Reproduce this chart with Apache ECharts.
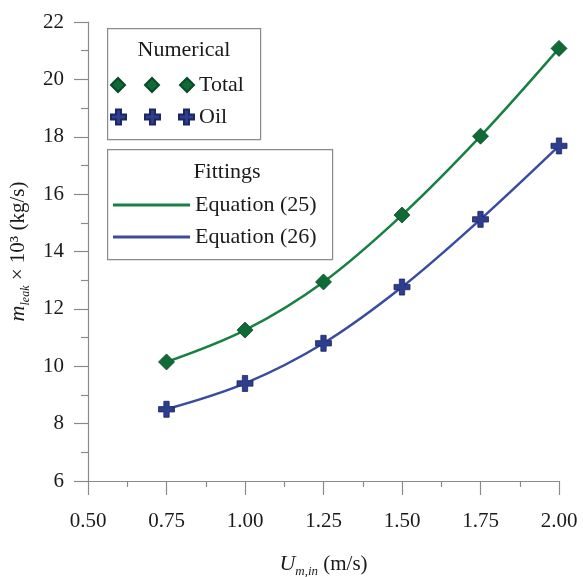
<!DOCTYPE html>
<html>
<head>
<meta charset="utf-8">
<script src="https://cdn.jsdelivr.net/npm/echarts@6/dist/echarts.min.js"></script>
<style>
html,body{margin:0;padding:0;background:#fff;}
#chart{width:583px;height:577px;}
</style>
</head>
<body>
<div id="chart"></div>
<script>
const velocities = [0.75, 1.00, 1.25, 1.50, 1.75, 2.00];
const totalLeak = [10.15, 11.26, 12.94, 15.27, 18.02, 21.08];
const oilLeak = [8.50, 9.40, 10.80, 12.76, 15.12, 17.68];
const xTicks = [0.50, 0.75, 1.00, 1.25, 1.50, 1.75, 2.00];
const yTicks = [6, 8, 10, 12, 14, 16, 18, 20, 22];

const FONT = '"Liberation Serif", "Times New Roman", serif';
const GREEN_FILL = '#0f6a36';
const GREEN_LINE = '#178042';
const GREEN_EDGE = '#0a4a26';
const BLUE_FILL = '#2e3d8e';
const BLUE_LINE = '#3a4c9f';
const BLUE_EDGE = '#1c275e';
const AXIS = '#8a8a8a';
const TEXT = '#1a1a1a';

const crossPath = 'path://M5,0 L10,0 L10,5 L15,5 L15,10 L10,10 L10,15 L5,15 L5,10 L0,10 L0,5 L5,5 Z';
const diamond3 = 'path://M0,7 L7,0 L14,7 L7,14 Z M34,7 L41,0 L48,7 L41,14 Z M69,7 L76,0 L83,7 L76,14 Z';
const cross3 = 'path://M5,0 L10,0 L10,5 L15,5 L15,10 L10,10 L10,15 L5,15 L5,10 L0,10 L0,5 L5,5 Z ' +
  'M39,0 L44,0 L44,5 L49,5 L49,10 L44,10 L44,15 L39,15 L39,10 L34,10 L34,5 L39,5 Z ' +
  'M73,0 L78,0 L78,5 L83,5 L83,10 L78,10 L78,15 L73,15 L73,10 L68,10 L68,5 L73,5 Z';

const pairs = arr => velocities.map((v, i) => [v, arr[i]]);

const chart = echarts.init(document.getElementById('chart'), null, {renderer: 'canvas'});

const legendText = {fontFamily: FONT, fontSize: 22, color: TEXT, lineHeight: 22};

chart.setOption({
  animation: false,
  backgroundColor: '#fff',
  grid: {left: 88, right: 24, top: 22, bottom: 96, containLabel: false, outerBoundsMode: 'none'},
  xAxis: {
    type: 'value',
    min: 0.5, max: 2.0, interval: 0.25,
    name: '{u|U}{sub|m,in}{n| (m/s)}',
    nameLocation: 'middle',
    nameGap: 69,
    nameTextStyle: {
      fontFamily: FONT, fontSize: 21, color: TEXT,
      rich: {
        u: {fontFamily: FONT, fontSize: 22, fontStyle: 'italic', color: TEXT, lineHeight: 28},
        sub: {fontFamily: FONT, fontSize: 13, fontStyle: 'italic', color: TEXT, lineHeight: 14, verticalAlign: 'bottom'},
        n: {fontFamily: FONT, fontSize: 21, color: TEXT, lineHeight: 28}
      }
    },
    axisLine: {show: true, lineStyle: {color: AXIS, width: 1.2}},
    axisTick: {show: true, inside: false, length: 14, lineStyle: {color: AXIS, width: 1.2}},
    minorTick: {show: true, splitNumber: 2, length: 6, lineStyle: {color: AXIS, width: 1.2}},
    splitLine: {show: false},
    axisLabel: {
      margin: 30, fontFamily: FONT, fontSize: 21, color: TEXT,
      formatter: v => v.toFixed(2)
    }
  },
  yAxis: {
    type: 'value',
    min: 6, max: 22, interval: 2,
    name: '{m|m}{sub|leak}{n| × 10³ (kg/s)}',
    nameLocation: 'middle',
    nameGap: 46,
    nameRotate: 90,
    nameTextStyle: {
      fontFamily: FONT, fontSize: 21, color: TEXT,
      rich: {
        m: {fontFamily: FONT, fontSize: 22, fontStyle: 'italic', color: TEXT, lineHeight: 28},
        sub: {fontFamily: FONT, fontSize: 12, fontStyle: 'italic', color: TEXT, lineHeight: 14, verticalAlign: 'bottom'},
        n: {fontFamily: FONT, fontSize: 21, color: TEXT, lineHeight: 28}
      }
    },
    axisLine: {show: true, onZero: false, lineStyle: {color: AXIS, width: 1.2}},
    axisTick: {show: true, inside: false, length: 14, lineStyle: {color: AXIS, width: 1.2}},
    minorTick: {show: true, splitNumber: 2, length: 7, lineStyle: {color: AXIS, width: 1.2}},
    splitLine: {show: false},
    axisLabel: {margin: 24, fontFamily: FONT, fontSize: 21, color: TEXT}
  },
  legend: [
    {
      orient: 'vertical', left: 110, top: 74, itemGap: 0, padding: 0,
      itemWidth: 83, itemHeight: 14, selectedMode: false,
      textStyle: legendText,
      data: [{name: 'Total', icon: diamond3}]
    },
    {
      orient: 'vertical', left: 110, top: 106, itemGap: 0, padding: 0,
      itemWidth: 83, itemHeight: 15, selectedMode: false,
      textStyle: legendText,
      data: [{name: 'Oil', icon: cross3}]
    },
    {
      orient: 'vertical', left: 113, top: 194, itemGap: 0, padding: 0,
      itemWidth: 77, itemHeight: 3, selectedMode: false,
      textStyle: legendText,
      data: [{name: 'Equation (25)', icon: 'rect'}]
    },
    {
      orient: 'vertical', left: 113, top: 226, itemGap: 0, padding: 0,
      itemWidth: 77, itemHeight: 3, selectedMode: false,
      textStyle: legendText,
      data: [{name: 'Equation (26)', icon: 'rect'}]
    }
  ],
  graphic: [
    {type: 'rect', left: 107, top: 28, shape: {width: 153, height: 111},
     style: {fill: 'rgba(255,255,255,0)', stroke: AXIS, lineWidth: 1.2}, z: 100},
    {type: 'rect', left: 107, top: 149, shape: {width: 225, height: 110},
     style: {fill: 'rgba(255,255,255,0)', stroke: AXIS, lineWidth: 1.2}, z: 100},
    {type: 'text', x: 184, y: 50, z: 100,
     style: {text: 'Numerical', fontFamily: FONT, fontSize: 22, fill: TEXT, align: 'center', verticalAlign: 'middle'}},
    {type: 'text', x: 227, y: 172, z: 100,
     style: {text: 'Fittings', fontFamily: FONT, fontSize: 22, fill: TEXT, align: 'center', verticalAlign: 'middle'}}
  ],
  series: [
    {
      name: 'Equation (25)', type: 'line', data: pairs(totalLeak),
      smooth: 0.35, showSymbol: false, symbol: 'none',
      lineStyle: {color: GREEN_LINE, width: 2.5},
      itemStyle: {color: GREEN_LINE}, z: 2
    },
    {
      name: 'Equation (26)', type: 'line', data: pairs(oilLeak),
      smooth: 0.35, showSymbol: false, symbol: 'none',
      lineStyle: {color: BLUE_LINE, width: 2.5},
      itemStyle: {color: BLUE_LINE}, z: 2
    },
    {
      name: 'Total', type: 'scatter', data: pairs(totalLeak),
      symbol: 'diamond', symbolSize: [16, 16],
      itemStyle: {color: GREEN_FILL, borderColor: GREEN_EDGE, borderWidth: 0.8, opacity: 1}, z: 3
    },
    {
      name: 'Oil', type: 'scatter', data: pairs(oilLeak),
      symbol: crossPath, symbolSize: [16, 16],
      itemStyle: {color: BLUE_FILL, borderColor: BLUE_EDGE, borderWidth: 0.8, opacity: 1}, z: 3
    }
  ]
});
</script>
</body>
</html>
